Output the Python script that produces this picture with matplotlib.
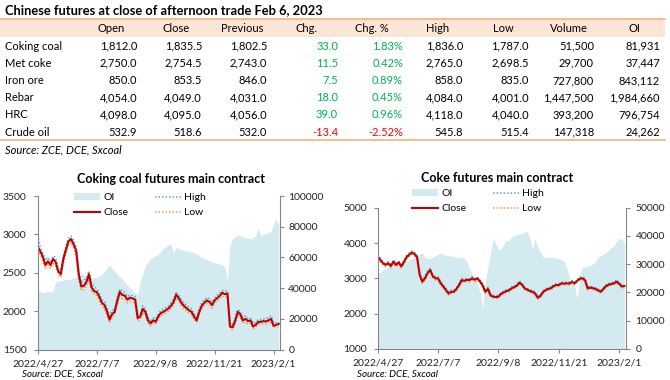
import matplotlib
matplotlib.use("Agg")
import matplotlib.pyplot as plt
import numpy as np
from matplotlib.patches import Rectangle
from matplotlib.lines import Line2D

plt.rcParams['font.family'] = ['Lato', 'DejaVu Sans']

# ---- table data ----
products = ["Coking coal", "Met coke", "Iron ore", "Rebar", "HRC", "Crude oil"]
headers = ["Open", "Close", "Previous", "Chg.", "Chg. %", "High", "Low", "Volume", "OI"]
open_px = [1812.0, 2750.0, 850.0, 4054.0, 4098.0, 532.9]
close_px = [1835.5, 2754.5, 853.5, 4049.0, 4095.0, 518.6]
prev_px = [1802.5, 2743.0, 846.0, 4031.0, 4056.0, 532.0]
chg = [33.0, 11.5, 7.5, 18.0, 39.0, -13.4]
chg_pct = [1.83, 0.42, 0.89, 0.45, 0.96, -2.52]
high_px = [1836.0, 2765.0, 858.0, 4084.0, 4118.0, 545.8]
low_px = [1787.0, 2698.5, 835.0, 4001.0, 4040.0, 515.4]
volume = [51500, 29700, 727800, 1447500, 393200, 147318]
open_int = [81931, 37447, 843112, 1984660, 796754, 24262]

# ---- chart data (every 2nd trading day, 2022/4/27 - 2023/2/6) ----
tick_labels = ["2022/4/27", "2022/7/7", "2022/9/8", "2022/11/21", "2023/2/1"]
tick_pos = [0, 46, 92, 138, 184]

coal_close = [2840, 2780, 2710, 2600, 2650, 2600, 2680, 2640, 2520, 2480,
              2680, 2800, 2910, 2940, 2870, 2790, 2480, 2320, 2330, 2380,
              2480, 2310, 2260, 2250, 2190, 2110, 2080, 2000, 1890, 1960,
              1990, 2130, 2250, 2210, 2200, 2150, 2175, 2165, 2150, 1910,
              1930, 2030, 1990, 1880, 1840, 1880, 1860, 1930, 1975, 1990,
              2013, 2035, 2070, 2120, 2215, 2170, 2110, 2070, 2040, 2010,
              1990, 1930, 1880, 1990, 2070, 2110, 2140, 2120, 2080, 2140,
              2170, 2200, 2240, 2220, 2230, 1800, 1790, 1870, 1990, 1960,
              1880, 1900, 1870, 1880, 1800, 1820, 1860, 1860, 1870, 1865,
              1880, 1900, 1810, 1820, 1835]
coal_high = [2990, 2830, 2760, 2660, 2700, 2650, 2720, 2700, 2570, 2530,
             2720, 2850, 2950, 2980, 2920, 2840, 2540, 2370, 2400, 2430,
             2520, 2360, 2320, 2290, 2240, 2150, 2130, 2050, 1940, 2010,
             2030, 2180, 2290, 2260, 2240, 2190, 2210, 2200, 2190, 1960,
             1970, 2070, 2030, 1920, 1880, 1910, 1900, 1960, 2010, 2030,
             2050, 2070, 2110, 2160, 2250, 2210, 2150, 2110, 2080, 2050,
             2030, 1970, 1920, 2030, 2110, 2150, 2180, 2160, 2120, 2170,
             2210, 2240, 2270, 2260, 2260, 1860, 1830, 1910, 2020, 2000,
             1920, 1940, 1910, 1910, 1840, 1860, 1890, 1890, 1900, 1900,
             1920, 1940, 1850, 1850, 1840]
coal_low = [2800, 2730, 2650, 2550, 2600, 2550, 2620, 2590, 2470, 2440,
            2620, 2750, 2860, 2900, 2820, 2720, 2400, 2270, 2280, 2330,
            2420, 2260, 2220, 2200, 2140, 2060, 2030, 1950, 1850, 1910,
            1950, 2080, 2200, 2160, 2150, 2110, 2130, 2120, 2100, 1870,
            1890, 1980, 1940, 1840, 1810, 1840, 1830, 1890, 1940, 1950,
            1980, 2000, 2030, 2080, 2170, 2130, 2070, 2030, 2000, 1970,
            1950, 1890, 1850, 1950, 2030, 2070, 2100, 2080, 2040, 2100,
            2130, 2160, 2200, 2180, 2190, 1770, 1760, 1830, 1950, 1920,
            1840, 1860, 1830, 1840, 1770, 1790, 1830, 1830, 1840, 1830,
            1850, 1860, 1780, 1790, 1800]
coal_oi = [38000, 37500, 37000, 37500, 38000, 37500, 38000, 44000, 44500, 45000,
           45000, 45500, 45500, 46000, 46500, 47000, 48000, 49500, 48500, 47500,
           47000, 46500, 46500, 47000, 48000, 49000, 50500, 53000, 55000, 53000,
           51000, 49000, 47500, 46000, 44000, 42000, 40000, 38500, 37000, 36000,
           44000, 50000, 54000, 57000, 59000, 60000, 61000, 62000, 64000, 66000,
           67000, 68000, 68500, 63000, 67000, 65500, 65000, 64500, 64000, 64000,
           63500, 63000, 62000, 61000, 60000, 59000, 58500, 58000, 57000, 56500,
           56000, 55500, 55000, 54000, 44000, 68000, 72000, 73500, 74500, 74000,
           73500, 73000, 72500, 72000, 73000, 74000, 79000, 74000, 75000, 75500,
           76000, 77000, 82000, 85000, 81000]

coke_close = [3616, 3520, 3430, 3380, 3427, 3350, 3474, 3380, 3450, 3340,
              3460, 3600, 3670, 3730, 3692, 3600, 3100, 2905, 3000, 3150,
              3240, 3060, 3000, 3000, 2860, 2770, 2670, 2573, 2620, 2620,
              2700, 2810, 2950, 2930, 2960, 2950, 3000, 2960, 3000, 2910,
              2800, 2620, 2700, 2520, 2480, 2470, 2480, 2560, 2600, 2640,
              2660, 2716, 2750, 2790, 2880, 2820, 2716, 2680, 2640, 2621,
              2573, 2450, 2500, 2610, 2668, 2700, 2720, 2780, 2810, 2810,
              2858, 2850, 2860, 2850, 2900, 2858, 2930, 2990, 3000, 2950,
              2716, 2740, 2720, 2700, 2660, 2621, 2700, 2780, 2820, 2840,
              2858, 2905, 2850, 2770, 2782]
coke_high = [3680, 3570, 3480, 3430, 3470, 3400, 3520, 3430, 3500, 3390,
             3510, 3650, 3720, 3780, 3740, 3660, 3160, 2960, 3060, 3200,
             3290, 3120, 3050, 3050, 2910, 2820, 2720, 2620, 2670, 2670,
             2750, 2860, 3000, 2980, 3000, 2990, 3040, 3000, 3040, 2960,
             2850, 2680, 2750, 2570, 2520, 2510, 2520, 2600, 2640, 2680,
             2700, 2760, 2790, 2830, 2920, 2870, 2760, 2720, 2680, 2660,
             2610, 2500, 2550, 2650, 2710, 2740, 2760, 2820, 2850, 2850,
             2900, 2890, 2900, 2890, 2940, 2900, 2970, 3030, 3040, 3000,
             2770, 2780, 2760, 2740, 2700, 2660, 2740, 2820, 2860, 2880,
             2900, 2960, 2890, 2810, 2800]
coke_low = [3560, 3470, 3380, 3330, 3380, 3300, 3420, 3330, 3400, 3290,
            3410, 3550, 3620, 3680, 3640, 3540, 3040, 2860, 2950, 3100,
            3190, 3010, 2950, 2950, 2810, 2720, 2620, 2520, 2570, 2570,
            2650, 2760, 2900, 2880, 2910, 2900, 2950, 2910, 2950, 2860,
            2750, 2570, 2650, 2480, 2440, 2430, 2440, 2520, 2560, 2600,
            2620, 2670, 2710, 2750, 2840, 2780, 2670, 2640, 2600, 2580,
            2530, 2410, 2460, 2570, 2630, 2660, 2680, 2740, 2770, 2770,
            2820, 2810, 2820, 2810, 2860, 2820, 2890, 2950, 2960, 2900,
            2670, 2700, 2680, 2660, 2620, 2580, 2660, 2740, 2780, 2800,
            2820, 2860, 2810, 2730, 2740]
coke_oi = [26700, 27300, 28000, 28500, 29000, 29500, 30000, 30200, 30500, 30800,
           31000, 31200, 31500, 32000, 32500, 33000, 33600, 34000, 32500, 32000,
           32000, 32500, 33000, 33500, 34000, 33500, 33000, 33000, 33000, 32800,
           32500, 32500, 32500, 32000, 31000, 28500, 26500, 25000, 23000, 20000,
           14300, 24000, 29000, 34000, 39000, 37500, 35000, 35500, 37000, 38500,
           38400, 39500, 40200, 40500, 40800, 41000, 41400, 41500, 39000, 35500,
           39000, 36000, 34300, 32500, 32500, 32500, 32500, 32500, 32200, 31900,
           31500, 31000, 29000, 25400, 23600, 22500, 17700, 26000, 29000, 29000,
           29500, 29500, 30100, 31000, 32500, 33000, 33500, 34200, 34900, 35800,
           36600, 38000, 39000, 39000, 37800]

W, H = 670, 380
ORANGE = '#F4B183'
PEACH = '#FBE5D6'
GREEN = '#00B050'
RED = '#FF0000'
GRID = '#868686'


def fx(x):
    return x / W


def fy(y):
    return 1 - y / H


fig = plt.figure(figsize=(W / 100, H / 100), dpi=100)

# ---- table ----
fig.patches.append(Rectangle((0, fy(37)), fx(665), fy(19) - fy(37), transform=fig.transFigure,
                             facecolor=PEACH, edgecolor='none', zorder=0))
for yy in (19, 140):
    fig.add_artist(Line2D([0, fx(665)], [fy(yy), fy(yy)], color=ORANGE, lw=1.2,
                          transform=fig.transFigure))

fig.text(fx(5), fy(10), "Chinese futures at close of afternoon trade Feb 6, 2023",
         fontsize=9.3, fontweight='bold', ha='left', va='center')

head_x = [111, 176, 242, 306, 372, 438, 503, 569, 634]
right_x = [137, 202, 267, 338, 403, 463, 529, 594, 660]
for hx, h in zip(head_x, headers):
    fig.text(fx(hx), fy(29), h, fontsize=8, ha='center', va='center')

row_y = [46, 63.3, 80.7, 97.9, 115, 132]
for i, name in enumerate(products):
    yy = fy(row_y[i])
    fig.text(fx(5), yy, name, fontsize=8, ha='left', va='center')
    vals = [f"{open_px[i]:,.1f}", f"{close_px[i]:,.1f}", f"{prev_px[i]:,.1f}",
            f"{chg[i]:.1f}", f"{chg_pct[i]:.2f}%", f"{high_px[i]:,.1f}",
            f"{low_px[i]:,.1f}", f"{volume[i]:,}", f"{open_int[i]:,}"]
    for j, v in enumerate(vals):
        col = 'black'
        if j in (3, 4):
            col = GREEN if chg[i] > 0 else RED
        fig.text(fx(right_x[j]), yy, v, fontsize=8, ha='right', va='center', color=col)

fig.text(fx(5), fy(150), "Source: ZCE, DCE, Sxcoal", fontsize=8, style='italic',
         ha='left', va='center')


# ---- charts ----
def draw_chart(box, title, title_pos, close, high, low, oi_vals, ylim, ystep,
               oilim, oistep, legend_pos, source_x, lpad, rpad):
    x = np.arange(0, 2 * len(close), 2)
    left, top, right, bottom = box
    ax = fig.add_axes([fx(left), fy(bottom), fx(right) - fx(left), fy(top) - fy(bottom)])
    ax2 = ax.twinx()
    oi_h = ax2.fill_between(x, 0, oi_vals, color='#D3EAF0', lw=0, label='OI')
    h_hi, = ax.plot(x, high, color='#4BACC6', lw=1.1, ls=(0, (1, 1.3)), label='High')
    h_lo, = ax.plot(x, low, color='#F79646', lw=1.1, ls=(0, (1, 1.3)), label='Low')
    h_cl, = ax.plot(x, close, color='#C00000', lw=1.5, label='Close')
    ax.set_zorder(ax2.get_zorder() + 1)
    ax.patch.set_visible(False)

    ax.set_xlim(0, 189)
    ax.set_ylim(*ylim)
    ax2.set_ylim(*oilim)
    ax.set_yticks(np.arange(ylim[0], ylim[1] + 1, ystep))
    ax2.set_yticks(np.arange(oilim[0], oilim[1] + 1, oistep))
    ax.set_xticks(tick_pos)
    ax.set_xticklabels(tick_labels)

    for s in ('top', 'right'):
        ax.spines[s].set_visible(False)
    for s in ('top', 'left', 'bottom'):
        ax2.spines[s].set_visible(False)
    for sp in (ax.spines['left'], ax.spines['bottom'], ax2.spines['right']):
        sp.set_color(GRID)
        sp.set_linewidth(0.8)
    ax.tick_params(axis='y', direction='out', length=3, width=0.8, color=GRID,
                   labelsize=7.5, pad=lpad, labelcolor='#222222')
    ax.tick_params(axis='x', direction='out', length=3, width=0.8, color=GRID,
                   labelsize=7.5, pad=4, labelcolor='#222222')
    ax2.tick_params(axis='y', direction='out', length=3, width=0.8, color=GRID,
                    labelsize=7.5, pad=rpad, labelcolor='#222222')

    fig.text(fx(title_pos[0]), fy(title_pos[1]), title, fontsize=9, fontweight='bold',
             ha='center', va='center')
    fig.legend([oi_h, h_cl, h_hi, h_lo], ['OI', 'Close', 'High', 'Low'], ncol=2,
               loc='upper left', bbox_to_anchor=(fx(legend_pos[0]), fy(legend_pos[1])),
               frameon=False, fontsize=7.5, handlelength=2.5, handletextpad=0.3,
               columnspacing=2.6, labelspacing=0.55, borderpad=0, borderaxespad=0)
    # source line sits at the very bottom edge, as in the original
    fig.text(fx(source_x), fy(370), "Source: DCE, Sxcoal", fontsize=7, style='italic',
             ha='left', va='top')


draw_chart((37.7, 196, 280, 349.5), "Coking coal futures main contract", (171, 179),
           coal_close, coal_high, coal_low, coal_oi, (1500, 3500), 500,
           (0, 100000), 20000, (74, 193), 22, 5, 3)
draw_chart((377.7, 207.7, 625.7, 349), "Coke futures main contract", (497, 178),
           coke_close, coke_high, coke_low, coke_oi, (1000, 5000), 1000,
           (0, 50000), 10000, (412, 189), 357, 4.5, 4)

fig.savefig("out.png", dpi=100)
